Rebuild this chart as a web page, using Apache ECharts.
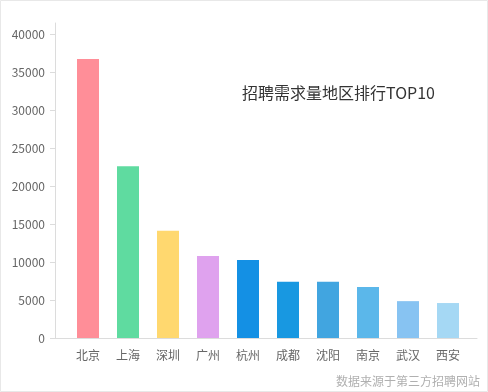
<!DOCTYPE html>
<html>
<head>
<meta charset="utf-8">
<script src="https://cdn.jsdelivr.net/npm/echarts@6/dist/echarts.min.js"></script>
<style>
html,body{margin:0;padding:0;background:#fff;}
#chart{width:488px;height:392px;}
</style>
</head>
<body>
<div id="chart"></div>
<script>
const categories = ['北京','上海','深圳','广州','杭州','成都','沈阳','南京','武汉','西安'];
const values = [36700, 22600, 14100, 10800, 10250, 7400, 7400, 6700, 4850, 4600];
const barColors = ['#FF8E98','#5FDBA0','#FFD86F','#DFA2EE','#1490E4','#1898E1','#41A5E0','#5BB7EA','#87C3F2','#A5D8F4'];
const yTicks = { min: 0, max: 40000, interval: 5000 };
const titleText = '招聘需求量地区排行TOP10';
const sourceText = '数据来源于第三方招聘网站';

const font = '"Microsoft YaHei","Noto Sans CJK SC","Noto Sans",sans-serif';
const chart = echarts.init(document.getElementById('chart'), null, {renderer:'canvas'});
chart.setOption({
  animation: false,
  backgroundColor: '#fff',
  title: [
    { text: titleText, left: 242, top: 85, padding: 0, textStyle: { fontSize: 16, fontWeight: 'normal', color: '#333', fontFamily: font } },
    { text: sourceText, right: 8, top: 375, padding: 0, textStyle: { fontSize: 12, fontWeight: 'normal', color: '#b0b0b0', fontFamily: font } }
  ],
  graphic: [
    { type: 'rect', shape: { x: 0.5, y: 0.5, width: 487, height: 391 }, style: { fill: null, stroke: '#e8e8e8', lineWidth: 1 }, silent: true }
  ],
  grid: [
    { left: 55, right: 11, top: 23, bottom: 54 },
    { left: 68, right: 20, top: 34, bottom: 54 }
  ],
  xAxis: [
    { gridIndex: 0, type: 'value', min: 0, max: 1, axisLine: { show: true, onZero: false, lineStyle: { color: '#dcdcdc' } }, axisTick: { show: false }, axisLabel: { show: false }, splitLine: { show: false } },
    { gridIndex: 1, type: 'category', data: categories, axisLine: { show: false }, axisTick: { show: false },
      axisLabel: { color: '#666', fontSize: 12, margin: 11, fontFamily: font } }
  ],
  yAxis: [
    { gridIndex: 0, type: 'value', min: 0, max: 1, axisLine: { show: true, onZero: false, lineStyle: { color: '#dcdcdc' } }, axisTick: { show: false }, axisLabel: { show: false }, splitLine: { show: false } },
    { gridIndex: 1, type: 'value', min: yTicks.min, max: yTicks.max, interval: yTicks.interval, offset: 13,
      axisLine: { show: false }, axisTick: { show: true, length: 5, lineStyle: { color: '#dcdcdc' } },
      axisLabel: { color: '#666', fontSize: 12, margin: 10, fontFamily: font, formatter: v => String(v) }, splitLine: { show: false } }
  ],
  series: [{
    type: 'bar',
    xAxisIndex: 1, yAxisIndex: 1,
    data: values.map((v, i) => ({ value: v, itemStyle: { color: barColors[i] } })),
    barWidth: 22
  }]
});
</script>
</body>
</html>
